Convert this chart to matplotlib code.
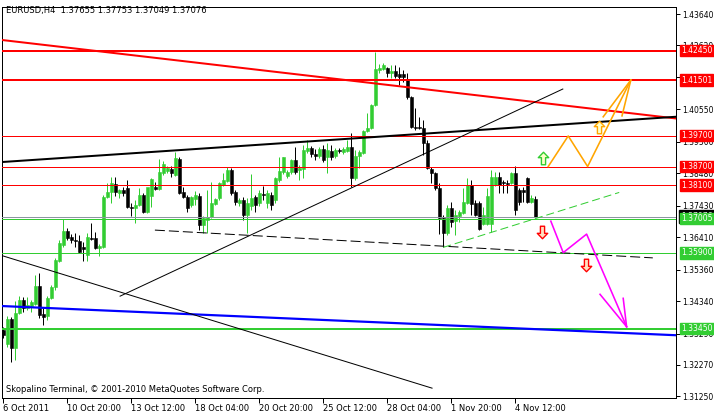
import matplotlib
matplotlib.use("Agg")
import matplotlib.pyplot as plt
import matplotlib.transforms as mtransforms
from matplotlib.path import Path
import numpy as np

# ---------------- data (EURUSD H4) ----------------
opens = [1.3340,1.3295,1.3376,1.3282,1.3395,1.3437,1.3411,1.3418,1.3424,1.3483,
         1.3392,1.3386,1.3444,1.3480,1.3564,1.3616,1.3661,1.3642,1.3632,1.3629,
         1.3609,1.3583,1.3638,1.3638,1.3606,1.3609,1.3771,1.3787,1.3813,1.3784,
         1.3794,1.3800,1.3739,1.3736,1.3745,1.3778,1.3723,1.3774,1.3804,1.3797,
         1.3849,1.3855,1.3862,1.3842,1.3894,1.3787,1.3771,1.3745,1.3765,1.3774,
         1.3680,1.3697,1.3706,1.3748,1.3768,1.3810,1.3823,1.3859,1.3787,1.3752,
         1.3761,1.3713,1.3742,1.3771,1.3752,1.3781,1.3752,1.3778,1.3761,1.3826,
         1.3852,1.3839,1.3852,1.3891,1.3859,1.3862,1.3920,1.3930,1.3910,1.3904,
         1.3927,1.3901,1.3920,1.3904,1.3923,1.3917,1.3920,1.3933,1.3833,1.3904,
         1.3914,1.3985,1.3995,1.4069,1.4183,1.4186,1.4189,1.4173,1.4179,1.4170,
         1.4170,1.4153,1.4095,1.3998,1.3998,1.3995,1.3946,1.3862,1.3849,1.3800,
         1.3703,1.3654,1.3736,1.3693,1.3710,1.3719,1.3752,1.3810,1.3752,1.3752,
         1.3684,1.3684,1.3684,1.3810,1.3836,1.3820,1.3816,1.3816,1.3849,1.3794,
         1.3794,1.3833,1.3755,1.37655]
highs = [1.3350,1.3386,1.3382,1.3434,1.3450,1.3447,1.3447,1.3437,1.3518,1.3525,
         1.3411,1.3450,1.3486,1.3574,1.3632,1.3700,1.3671,1.3651,1.3654,1.3648,
         1.3625,1.3654,1.3687,1.3658,1.3619,1.3778,1.3816,1.3836,1.3836,1.3797,
         1.3804,1.3826,1.3752,1.3761,1.3800,1.3784,1.3784,1.3833,1.3820,1.3894,
         1.3888,1.3872,1.3872,1.3917,1.3901,1.3804,1.3778,1.3774,1.3791,1.3784,
         1.3710,1.3794,1.3820,1.3768,1.3820,1.3849,1.3868,1.3865,1.3794,1.3768,
         1.3771,1.3768,1.3846,1.3778,1.3794,1.3807,1.3794,1.3787,1.3836,1.3901,
         1.3901,1.3859,1.3894,1.3933,1.3875,1.3940,1.3956,1.3936,1.3927,1.3933,
         1.3940,1.3946,1.3940,1.3930,1.3930,1.3933,1.3956,1.3978,1.3923,1.3923,
         1.3988,1.4043,1.4072,1.4241,1.4202,1.4205,1.4192,1.4199,1.4199,1.4192,
         1.4183,1.4173,1.4098,1.4059,1.4030,1.4021,1.3956,1.3868,1.3852,1.3816,
         1.3713,1.3745,1.3755,1.3729,1.3729,1.3800,1.3833,1.3826,1.3761,1.3758,
         1.3739,1.3800,1.3859,1.3852,1.3852,1.3826,1.3826,1.3852,1.3872,1.3800,
         1.3804,1.3835,1.3778,1.37753]
lows = [1.3314,1.3285,1.3237,1.3243,1.3392,1.3399,1.3405,1.3399,1.3421,1.3379,
        1.3356,1.3373,1.3441,1.3470,1.3561,1.3609,1.3632,1.3622,1.3609,1.3590,
        1.3564,1.3564,1.3632,1.3603,1.3580,1.3606,1.3768,1.3752,1.3774,1.3768,
        1.3774,1.3736,1.3710,1.3687,1.3742,1.3719,1.3719,1.3739,1.3794,1.3794,
        1.3842,1.3849,1.3836,1.3839,1.3781,1.3768,1.3723,1.3739,1.3745,1.3664,
        1.3654,1.3654,1.3703,1.3745,1.3761,1.3807,1.3820,1.3778,1.3745,1.3742,
        1.3697,1.3654,1.3729,1.3723,1.3742,1.3761,1.3736,1.3729,1.3752,1.3820,
        1.3846,1.3833,1.3846,1.3846,1.3826,1.3833,1.3914,1.3901,1.3891,1.3897,
        1.3885,1.3849,1.3891,1.3897,1.3914,1.3910,1.3917,1.3804,1.3826,1.3865,
        1.3910,1.3982,1.3991,1.4066,1.4173,1.4183,1.4160,1.4157,1.4157,1.4134,
        1.4144,1.4090,1.3995,1.3988,1.3991,1.3907,1.3862,1.3816,1.3794,1.3650,
        1.3609,1.3648,1.3674,1.3648,1.3690,1.3716,1.3748,1.3713,1.3710,1.3664,
        1.3680,1.3680,1.3658,1.3807,1.3784,1.3784,1.3784,1.3813,1.3713,1.3745,
        1.3755,1.3752,1.3752,1.37049]
closes = [1.3324,1.3376,1.3282,1.3395,1.3437,1.3411,1.3421,1.3431,1.3483,1.3389,
          1.3382,1.3444,1.3480,1.3567,1.3622,1.3661,1.3638,1.3632,1.3629,1.3593,
          1.3603,1.3642,1.3635,1.3606,1.3612,1.3771,1.3787,1.3816,1.3787,1.3794,
          1.3784,1.3739,1.3736,1.3745,1.3778,1.3723,1.3804,1.3829,1.3797,1.3852,
          1.3878,1.3865,1.3849,1.3897,1.3784,1.3771,1.3736,1.3771,1.3778,1.3680,
          1.3703,1.3706,1.3752,1.3765,1.3816,1.3826,1.3859,1.3784,1.3755,1.3761,
          1.3713,1.3752,1.3768,1.3745,1.3784,1.3778,1.3784,1.3745,1.3833,1.3855,
          1.3901,1.3852,1.3891,1.3852,1.3865,1.3923,1.3930,1.3910,1.3904,1.3927,
          1.3891,1.3923,1.3901,1.3923,1.3920,1.3927,1.3933,1.3833,1.3904,1.3917,
          1.3985,1.3995,1.4069,1.4186,1.4189,1.4199,1.4173,1.4179,1.4163,1.4160,
          1.4160,1.4095,1.3998,1.3995,1.3995,1.3946,1.3865,1.3849,1.3800,1.3703,
          1.3654,1.3736,1.3690,1.3713,1.3723,1.3755,1.3810,1.3748,1.3713,1.3667,
          1.3713,1.3774,1.3836,1.3836,1.3810,1.3816,1.3813,1.3849,1.3729,1.3755,
          1.3787,1.3755,1.3768,1.37076]

time_tick_bars = [0, 16, 32, 48, 64, 80, 96, 112, 128]
time_tick_labels = ["6 Oct 2011", "10 Oct 20:00", "13 Oct 12:00", "18 Oct 04:00",
                    "20 Oct 20:00", "25 Oct 12:00", "28 Oct 04:00", "1 Nov 20:00",
                    "4 Nov 12:00"]
price_ticks = [1.43640, 1.42620, 1.41590, 1.40550, 1.39500, 1.38480, 1.37430,
               1.36410, 1.35360, 1.34340, 1.33290, 1.32270, 1.31250]

red_levels = [1.42450, 1.41501, 1.39700, 1.38700, 1.38100]
red_level_labels = ["1.42450", "1.41501", "1.39700", "1.38700", "1.38100"]
red_level_widths = [2, 2, 1, 1, 1]
green_levels = [1.37005, 1.35900, 1.33450]
green_level_labels = ["1.37005", "1.35900", "1.33450"]
green_level_widths = [1, 1, 2]
bid_price = 1.37076

# trend lines: (bar, price) pairs
red_trend = [(-0.33, 1.42798), (167.2, 1.40271)]
black_trend = [(-0.33, 1.38845), (167.2, 1.40303)]
blue_trend = [(-0.33, 1.3418), (167.2, 1.3324)]
thin_up = [(29.2, 1.3450), (139.9, 1.4121)]
thin_down = [(0.0, 1.3580), (107.2, 1.3152)]
dashed_black = [(37.9, 1.3664), (162.4, 1.3574)]
dashed_green = [(110.0, 1.3608), (154.0, 1.3786)]

orange_x = [136.25, 141.25, 146.1, 156.9]
orange_y = [1.3870, 1.3969, 1.3870, 1.4150]
orange_barbs = [(150.0, 1.4031), (154.7, 1.4034)]
magenta_x = [136.9, 140.0, 145.85, 155.85]
magenta_y = [1.3693, 1.3591, 1.3651, 1.3351]
magenta_barbs = [(149.2, 1.3456), (155.0, 1.3443)]

up_arrows = [(134.9, 1.3897, "#32CD32", "#FFFFC8"), (148.9, 1.3998, "#FFA500", "#FFFFC8")]
down_arrows = [(134.7, 1.3658), (145.6, 1.3551)]

# ---------------- figure ----------------
W, H = 714, 416
fig = plt.figure(figsize=(W / 100, H / 100), dpi=100)
fig.patch.set_facecolor("white")
ax = fig.add_axes([2 / W, 1 - 398 / H, 674 / W, 391 / H])
ax.set_xlim(-0.33, 168.2)
ax.set_ylim(1.31201, 1.43867)

PX = 0.72  # one pixel in points
GREEN = "#32CD32"
FS = 6.0
FSY = 5.5

o = np.array(opens); h = np.array(highs); l = np.array(lows); c = np.array(closes)
x = np.arange(len(o))
up = c >= o
cols = np.where(up, GREEN, "black")
ax.vlines(x, l, h, colors=cols, linewidth=PX, zorder=2)
ax.bar(x, np.abs(c - o), bottom=np.minimum(o, c), width=0.78, color=cols,
       edgecolor=cols, linewidth=0.4, zorder=2.1)

# horizontal levels
for lv, wd in zip(red_levels, red_level_widths):
    ax.axhline(lv, color="#FF0000", linewidth=wd * PX, zorder=3)
for lv, wd in zip(green_levels, green_level_widths):
    ax.axhline(lv, color=GREEN, linewidth=wd * PX, zorder=3)
ax.axhline(bid_price, color="#8C96A0", linewidth=PX, zorder=3)

# trend lines
ax.axline(red_trend[0], red_trend[1], color="#FF0000", linewidth=2 * PX, zorder=3)
ax.axline(black_trend[0], black_trend[1], color="black", linewidth=2 * PX, zorder=3)
ax.axline(blue_trend[0], blue_trend[1], color="#0000FF", linewidth=2.2 * PX, zorder=3)
for seg in (thin_up, thin_down):
    ax.plot([seg[0][0], seg[1][0]], [seg[0][1], seg[1][1]], color="black",
            linewidth=PX, zorder=3)
ax.plot([dashed_black[0][0], dashed_black[1][0]], [dashed_black[0][1], dashed_black[1][1]],
        color="black", linewidth=PX, dashes=(10, 4), zorder=3)
ax.plot([dashed_green[0][0], dashed_green[1][0]], [dashed_green[0][1], dashed_green[1][1]],
        color=GREEN, linewidth=PX, dashes=(8, 4), zorder=3)

# zigzag arrows
ax.plot(orange_x, orange_y, color="#FFA500", linewidth=1.6 * PX, zorder=4)
for bx, by in orange_barbs:
    ax.plot([orange_x[-1], bx], [orange_y[-1], by], color="#FFA500", linewidth=1.6 * PX, zorder=4)
ax.plot(magenta_x, magenta_y, color="#FF00FF", linewidth=1.6 * PX, zorder=4)
for bx, by in magenta_barbs:
    ax.plot([magenta_x[-1], bx], [magenta_y[-1], by], color="#FF00FF", linewidth=1.6 * PX, zorder=4)

# hollow arrow glyphs
up_verts = [(0, 0.6), (0.5, 0.08), (0.2, 0.08), (0.2, -0.6), (-0.2, -0.6),
            (-0.2, 0.08), (-0.5, 0.08), (0, 0.6)]
up_marker = Path(up_verts, closed=True)
down_marker = Path([(vx, -vy) for vx, vy in up_verts], closed=True)
for ux, uy, ec, fc in up_arrows:
    ax.plot([ux], [uy], marker=up_marker, markersize=9, markerfacecolor=fc,
            markeredgecolor=ec, markeredgewidth=1.0, linestyle="none", zorder=6)
for dx, dy in down_arrows:
    ax.plot([dx], [dy], marker=down_marker, markersize=9, markerfacecolor="#FFE0C0",
            markeredgecolor="#FF0000", markeredgewidth=1.0, linestyle="none", zorder=6)

# axes styling
for sp in ax.spines.values():
    sp.set_color("black")
    sp.set_linewidth(PX)
ax.yaxis.tick_right()
ax.set_yticks(price_ticks)
ax.set_yticklabels(["%.5f" % t for t in price_ticks])
ax.tick_params(axis="y", direction="out", length=3, width=PX, pad=1.2,
               labelsize=FSY, colors="black")
ax.set_xticks(time_tick_bars)
ax.set_xticklabels(time_tick_labels)
for lbl in ax.get_xticklabels():
    lbl.set_horizontalalignment("left")
ax.tick_params(axis="x", direction="out", length=3.6, width=PX, pad=1.0,
               labelsize=FS, colors="black")

# price label boxes on the right axis
trans = mtransforms.blended_transform_factory(ax.transAxes, ax.transData)
ax.text(1.0075, bid_price, "1.37076", transform=trans, color="white", fontsize=FSY,
        va="center", ha="left", clip_on=False, zorder=5,
        bbox=dict(boxstyle="square,pad=0.25", fc="black", ec="black"))
for lv, txt in zip(red_levels, red_level_labels):
    ax.text(1.0075, lv, txt, transform=trans, color="white", fontsize=FSY, va="center",
            ha="left", clip_on=False, zorder=6,
            bbox=dict(boxstyle="square,pad=0.15", fc="#FF0000", ec="#FF0000"))
for lv, txt in zip(green_levels, green_level_labels):
    ax.text(1.0075, lv, txt, transform=trans, color="white", fontsize=FSY, va="center",
            ha="left", clip_on=False, zorder=6,
            bbox=dict(boxstyle="square,pad=0.15", fc=GREEN, ec=GREEN))

# header / footer text
fig.text(6 / W, 1 - 11 / H, "EURUSD,H4  1.37655 1.37753 1.37049 1.37076",
         fontsize=FS, va="center", ha="left", color="black")
fig.text(6 / W, 1 - 390 / H, "Skopalino Terminal, \u00a9 2001-2010 MetaQuotes Software Corp.",
         fontsize=FS, va="center", ha="left", color="black")

fig.savefig("out.png", dpi=100, facecolor="white")
